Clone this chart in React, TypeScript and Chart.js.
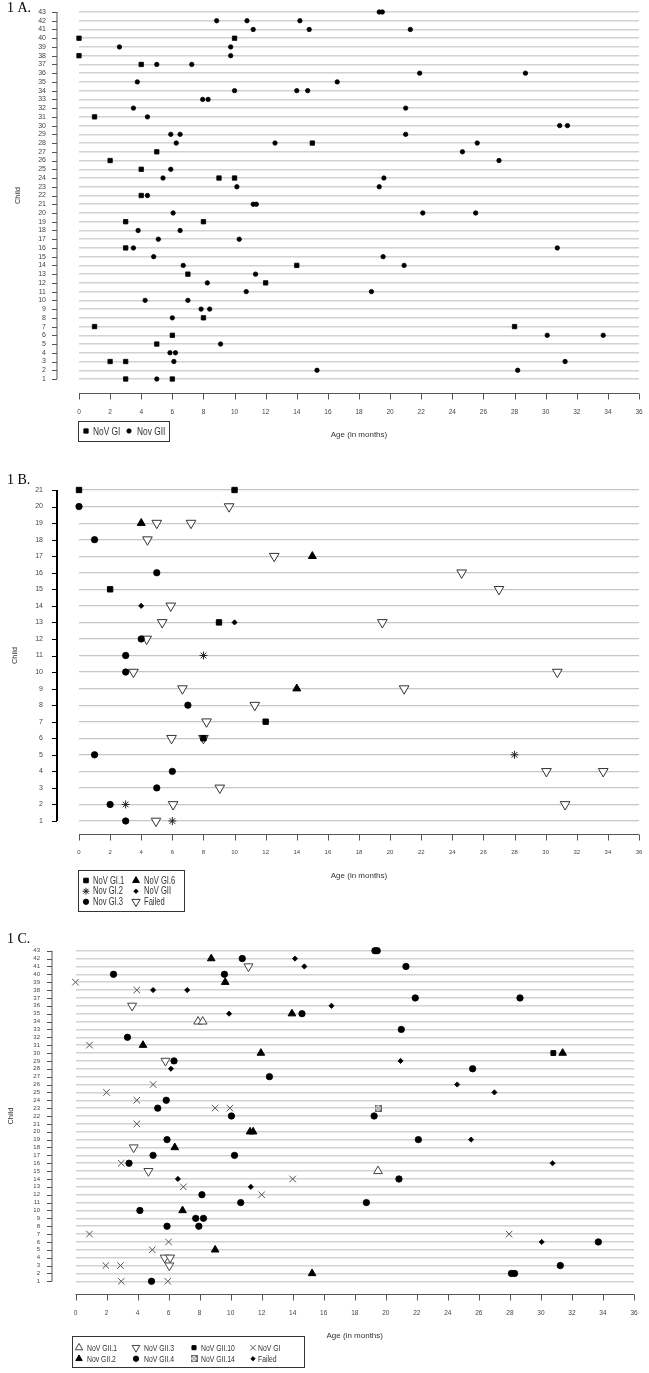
import React, { useEffect, useRef } from 'react';
import { Chart, registerables } from 'chart.js';
import { drawPoint } from 'chart.js/helpers';

Chart.register(...registerables);

type Pair = [number, number]; // [child, age in months]

const SANS = "'Liberation Sans', Arial, sans-serif";
const SERIF = "'Liberation Serif', 'Times New Roman', serif";

// ---------- tick labels ----------
const ageTicks = [0, 2, 4, 6, 8, 10, 12, 14, 16, 18, 20, 22, 24, 26, 28, 30, 32, 34, 36];
const childTicks43 = [1, 2, 3, 4, 5, 6, 7, 8, 9, 10, 11, 12, 13, 14, 15, 16, 17, 18, 19, 20, 21, 22, 23, 24, 25, 26, 27, 28, 29, 30, 31, 32, 33, 34, 35, 36, 37, 38, 39, 40, 41, 42, 43];
const childTicks21 = [1, 2, 3, 4, 5, 6, 7, 8, 9, 10, 11, 12, 13, 14, 15, 16, 17, 18, 19, 20, 21];

// ---------- Panel 1A: [child, age] ----------
const aNovGI: Pair[] = [
  [40, 0], [40, 10], [38, 0], [37, 4], [31, 1], [28, 15], [27, 5], [26, 2], [25, 4], [24, 9], [24, 10],
  [22, 4], [19, 3], [19, 8], [16, 3], [14, 14], [13, 7], [12, 12], [8, 8], [7, 1], [7, 28], [6, 6],
  [5, 5], [3, 2], [3, 3], [1, 3], [1, 6],
];
const aNovGII: Pair[] = [
  [43, 19.3], [43, 19.5], [42, 8.85], [42, 10.8], [42, 14.2], [41, 11.2], [41, 14.8], [41, 21.3],
  [39, 2.6], [39, 9.75], [38, 9.75], [37, 5.0], [37, 7.25], [36, 21.9], [36, 28.7], [35, 3.75], [35, 16.6],
  [34, 10.0], [34, 14.0], [34, 14.7], [33, 7.95], [33, 8.3], [32, 3.5], [32, 21.0], [31, 4.4],
  [30, 30.9], [30, 31.4], [29, 5.9], [29, 6.5], [29, 21.0], [28, 6.25], [28, 12.6], [28, 25.6],
  [27, 24.65], [26, 27.0], [25, 5.9], [24, 5.4], [24, 19.6], [23, 10.15], [23, 19.3], [22, 4.4],
  [21, 11.2], [21, 11.4], [20, 6.05], [20, 22.1], [20, 25.5], [18, 3.8], [18, 6.5], [17, 5.1], [17, 10.3],
  [16, 3.5], [16, 30.75], [15, 4.8], [15, 19.55], [14, 6.7], [14, 20.9], [13, 11.35], [12, 8.25],
  [11, 10.75], [11, 18.8], [10, 4.25], [10, 7.0], [9, 7.85], [9, 8.4], [8, 6.0], [6, 30.1], [6, 33.7],
  [5, 9.1], [4, 5.85], [4, 6.2], [3, 6.1], [3, 31.25], [2, 15.3], [2, 28.2], [1, 5.0],
];

// ---------- Panel 1B ----------
const bGI1: Pair[] = [[21, 0], [21, 10], [15, 2], [13, 9], [7, 12], [6, 8]];
const bGI6: Pair[] = [[19, 4], [17, 15], [9, 14]];
const bGI2: Pair[] = [[11, 8], [5, 28], [2, 3], [1, 6]];
const bGII: Pair[] = [[14, 4], [13, 10]];
const bGI3: Pair[] = [[20, 0], [18, 1], [16, 5], [12, 4], [11, 3], [10, 3], [8, 7], [5, 1], [4, 6], [3, 5], [2, 2], [1, 3]];
const bFailed: Pair[] = [
  [20, 9.65], [19, 5], [19, 7.2], [18, 4.4], [17, 12.55], [16, 24.6], [15, 27], [14, 5.9], [13, 5.35],
  [13, 19.5], [12, 4.35], [10, 3.5], [10, 30.75], [9, 6.65], [9, 20.9], [8, 11.3], [7, 8.2], [6, 5.95],
  [6, 8], [4, 30.05], [4, 33.7], [3, 9.05], [2, 6.05], [2, 31.25], [1, 4.95],
];

// ---------- Panel 1C ----------
const cGII1: Pair[] = [[34, 7.9], [34, 8.2], [15, 19.5]];
const cGII3: Pair[] = [[41, 11.15], [36, 3.65], [29, 5.8], [18, 3.75], [15, 4.7], [4, 5.75], [4, 6.1], [3, 6.05]];
const cGII10: Pair[] = [[30, 30.8]];
const cGI: Pair[] = [
  [39, 0], [38, 3.95], [31, 0.9], [26, 5], [25, 2], [24, 3.95], [23, 9], [23, 9.95], [21, 3.95],
  [16, 2.95], [14, 14], [13, 6.95], [12, 12], [7, 0.9], [7, 27.95], [6, 6], [5, 4.95], [3, 1.95],
  [3, 2.9], [1, 2.95], [1, 5.95],
];
const cGII2: Pair[] = [
  [42, 8.75], [39, 9.65], [35, 13.95], [31, 4.35], [30, 11.95], [30, 31.4], [20, 11.25], [20, 11.45],
  [18, 6.4], [10, 6.9], [5, 9], [2, 15.25],
];
const cGII4: Pair[] = [
  [43, 19.3], [43, 19.45], [42, 10.75], [41, 21.3], [40, 2.45], [40, 9.6], [37, 21.9], [37, 28.65],
  [35, 14.6], [33, 21.0], [32, 3.35], [29, 6.35], [28, 25.6], [27, 12.5], [24, 5.85], [23, 5.3],
  [22, 10.05], [22, 19.25], [19, 5.9], [19, 22.1], [17, 5.0], [17, 10.25], [16, 3.45], [14, 20.85],
  [12, 8.15], [11, 10.65], [11, 18.75], [10, 4.15], [9, 7.75], [9, 8.25], [8, 5.9], [8, 7.95],
  [6, 33.7], [3, 31.25], [2, 28.1], [2, 28.3], [1, 4.9],
];
const cGII14: Pair[] = [[23, 19.5]];
const cFailed: Pair[] = [
  [42, 14.15], [41, 14.75], [38, 5.0], [38, 7.2], [36, 16.5], [35, 9.9], [29, 20.95], [28, 6.15],
  [26, 24.6], [25, 27.0], [19, 25.5], [16, 30.75], [14, 6.6], [13, 11.3], [6, 30.05],
];

// ---------- types ----------
interface Marker { shape: string; radius: number; rotation?: number; fill: string; stroke: string; lw: number }
interface Series { label: string; data: Pair[]; marker: Marker }
interface Slot { x: number; y: number; tx: number }
interface PanelCfg {
  title: string; titleY: number; top: number; height: number; rows: number[]; series: Series[];
  padding: { top: number; left: number; right: number; bottom: number };
  yWidth: number; xHeight: number; yTickPad: number; xTickPad: number; xTitlePad: number; yTitlePad: number;
  xTickFont: number; yTickFont: number;
  gridColor: string; gridWidth: number;
  xAxisOffset: number; yAxisX: number; yAxisWidth: number; yAxisColor: string; xAxisColor: string;
  legendBox: [number, number, number, number]; slots: Slot[]; legendFont: number; legendScale: number;
}

const BLACK = '#000';
const TEXT_SQUEEZE = 0.76;

const panels: PanelCfg[] = [
  {
    title: '1 A.', titleY: 12, top: 0, height: 455, rows: childTicks43,
    series: [
      { label: 'NoV GI', data: aNovGI, marker: { shape: 'rect', radius: 3.1, fill: BLACK, stroke: BLACK, lw: 0.8 } },
      { label: 'Nov GII', data: aNovGII, marker: { shape: 'circle', radius: 2.2, fill: BLACK, stroke: BLACK, lw: 0.8 } },
    ],
    padding: { top: 12, left: 0, right: 10, bottom: 0 },
    yWidth: 79, xHeight: 76, yTickPad: 33, xTickPad: 29, xTitlePad: 15.2, yTitlePad: 13.5,
    xTickFont: 6.5, yTickFont: 7,
    gridColor: '#d2d2d2', gridWidth: 1.5,
    xAxisOffset: 14, yAxisX: 57, yAxisWidth: 1, yAxisColor: '#555', xAxisColor: '#555',
    legendBox: [78, 421, 169, 441],
    slots: [{ x: 86, y: 431, tx: 93 }, { x: 129, y: 431, tx: 137 }],
    legendFont: 11, legendScale: 1,
  },
  {
    title: '1 B.', titleY: 28.5, top: 455, height: 460, rows: childTicks21,
    series: [
      { label: 'NoV GI.1', data: bGI1, marker: { shape: 'rect', radius: 3.8, fill: BLACK, stroke: BLACK, lw: 1 } },
      { label: 'NoV GI.6', data: bGI6, marker: { shape: 'triangle', radius: 4.6, fill: BLACK, stroke: BLACK, lw: 1 } },
      { label: 'Nov GI.2', data: bGI2, marker: { shape: 'star', radius: 4, fill: 'rgba(0,0,0,0)', stroke: '#222', lw: 1 } },
      { label: 'NoV GII', data: bGII, marker: { shape: 'rectRot', radius: 2.6, fill: BLACK, stroke: BLACK, lw: 0.8 } },
      { label: 'Nov GI.3', data: bGI3, marker: { shape: 'circle', radius: 3.2, fill: BLACK, stroke: BLACK, lw: 0.8 } },
      { label: 'Failed', data: bFailed, marker: { shape: 'triangle', rotation: 180, radius: 5.6, fill: '#fff', stroke: '#333', lw: 1 } },
    ],
    padding: { top: 35, left: 0, right: 10, bottom: 0 },
    yWidth: 79, xHeight: 94, yTickPad: 36, xTickPad: 28, xTitlePad: 34.2, yTitlePad: 10,
    xTickFont: 6, yTickFont: 7,
    gridColor: '#c6c6c6', gridWidth: 1.2,
    xAxisOffset: 13, yAxisX: 57, yAxisWidth: 2, yAxisColor: '#000', xAxisColor: '#555',
    legendBox: [78, 415, 184, 456],
    slots: [
      { x: 86, y: 425.5, tx: 93 }, { x: 136, y: 425.5, tx: 144 },
      { x: 86, y: 436.2, tx: 93 }, { x: 136, y: 436.2, tx: 144 },
      { x: 86, y: 446.8, tx: 93 }, { x: 136, y: 446.8, tx: 144 },
    ],
    legendFont: 10, legendScale: 0.85,
  },
  {
    title: '1 C.', titleY: 28, top: 915, height: 458, rows: childTicks43,
    series: [
      { label: 'NoV GII.1', data: cGII1, marker: { shape: 'triangle', radius: 5, fill: '#fff', stroke: '#444', lw: 1 } },
      { label: 'NoV GII.3', data: cGII3, marker: { shape: 'triangle', rotation: 180, radius: 5.2, fill: '#fff', stroke: '#444', lw: 1 } },
      { label: 'NoV GII.10', data: cGII10, marker: { shape: 'rect', radius: 3.4, fill: BLACK, stroke: BLACK, lw: 1 } },
      { label: 'NoV GI', data: cGI, marker: { shape: 'crossRot', radius: 4.6, fill: 'rgba(0,0,0,0)', stroke: '#555', lw: 1 } },
      { label: 'Nov GII.2', data: cGII2, marker: { shape: 'triangle', radius: 4.4, fill: BLACK, stroke: BLACK, lw: 1 } },
      { label: 'NoV GII.4', data: cGII4, marker: { shape: 'circle', radius: 3.2, fill: BLACK, stroke: BLACK, lw: 0.8 } },
      { label: 'NoV GII.14', data: cGII14, marker: { shape: 'boxX', radius: 3, fill: '#fff', stroke: '#666', lw: 1 } },
      { label: 'Failed', data: cFailed, marker: { shape: 'rectRot', radius: 2.6, fill: BLACK, stroke: BLACK, lw: 0.8 } },
    ],
    padding: { top: 35.7, left: 0, right: 15, bottom: 0 },
    yWidth: 75.5, xHeight: 91.7, yTickPad: 35.5, xTickPad: 27.8, xTitlePad: 32.2, yTitlePad: 6,
    xTickFont: 6.5, yTickFont: 6,
    gridColor: '#d2d2d2', gridWidth: 1.5,
    xAxisOffset: 12.7, yAxisX: 52, yAxisWidth: 1, yAxisColor: '#555', xAxisColor: '#555',
    legendBox: [72, 421, 304, 452],
    slots: [
      { x: 79, y: 432.7, tx: 87 }, { x: 136, y: 432.7, tx: 144 }, { x: 194, y: 432.7, tx: 201 }, { x: 253, y: 432.7, tx: 258 },
      { x: 79, y: 443.7, tx: 87 }, { x: 136, y: 443.7, tx: 144 }, { x: 194, y: 443.7, tx: 201 }, { x: 253, y: 443.7, tx: 258 },
    ],
    legendFont: 9, legendScale: 0.85,
  },
];

function makeBoxX(): HTMLCanvasElement {
  const c = document.createElement('canvas');
  c.width = 7;
  c.height = 7;
  const g = c.getContext('2d')!;
  g.strokeStyle = '#666';
  g.lineWidth = 1;
  g.strokeRect(0.5, 0.5, 6, 6);
  g.beginPath();
  g.moveTo(1, 1); g.lineTo(6, 6);
  g.moveTo(6, 1); g.lineTo(1, 6);
  g.stroke();
  return c;
}

function resolveShape(shape: string): any {
  return shape === 'boxX' ? makeBoxX() : shape;
}

function makeDecor(cfg: PanelCfg, shapes: any[]) {
  return {
    id: 'decor',
    afterDraw(chart: any) {
      const { ctx, chartArea } = chart;
      const xs = chart.scales.x;
      const ys = chart.scales.y;
      ctx.save();
      // x axis line and ticks
      const ay = Math.round(chartArea.bottom + cfg.xAxisOffset) + 0.5;
      ctx.strokeStyle = cfg.xAxisColor;
      ctx.lineWidth = 1;
      ctx.beginPath();
      ctx.moveTo(xs.getPixelForValue(ageTicks[0]), ay);
      ctx.lineTo(xs.getPixelForValue(ageTicks[ageTicks.length - 1]), ay);
      for (const t of xs.ticks) {
        const px = Math.round(xs.getPixelForValue(t.value)) + 0.5;
        ctx.moveTo(px, ay);
        ctx.lineTo(px, ay + 6);
      }
      ctx.stroke();
      // y axis line and ticks
      ctx.strokeStyle = cfg.yAxisColor;
      ctx.lineWidth = cfg.yAxisWidth;
      ctx.beginPath();
      ctx.moveTo(cfg.yAxisX, ys.getPixelForValue(cfg.rows[0]));
      ctx.lineTo(cfg.yAxisX, ys.getPixelForValue(cfg.rows[cfg.rows.length - 1]));
      ctx.stroke();
      ctx.lineWidth = 1;
      ctx.beginPath();
      for (const t of ys.ticks) {
        const py = Math.round(ys.getPixelForValue(t.value)) + 0.5;
        ctx.moveTo(cfg.yAxisX - 5, py);
        ctx.lineTo(cfg.yAxisX, py);
      }
      ctx.stroke();
      // legend
      const [l, t, r, b] = cfg.legendBox;
      ctx.strokeStyle = '#333';
      ctx.lineWidth = 1;
      ctx.strokeRect(l + 0.5, t + 0.5, r - l, b - t);
      ctx.font = `${cfg.legendFont}px ${SANS}`;
      ctx.textBaseline = 'middle';
      ctx.textAlign = 'left';
      cfg.series.forEach((s, i) => {
        const slot = cfg.slots[i];
        const m = s.marker;
        ctx.fillStyle = m.fill;
        ctx.strokeStyle = m.stroke;
        ctx.lineWidth = m.lw;
        drawPoint(ctx, { pointStyle: shapes[i], rotation: m.rotation || 0, radius: m.radius * cfg.legendScale, borderWidth: m.lw }, slot.x, slot.y);
        ctx.save();
        ctx.translate(slot.tx, slot.y + 0.5);
        ctx.scale(TEXT_SQUEEZE, 1);
        ctx.fillStyle = '#333';
        ctx.fillText(s.label, 0, 0);
        ctx.restore();
      });
      // panel title
      ctx.font = `14px ${SERIF}`;
      ctx.fillStyle = '#000';
      ctx.textBaseline = 'alphabetic';
      ctx.fillText(cfg.title, 7, cfg.titleY);
      ctx.restore();
    },
  };
}

function buildConfig(cfg: PanelCfg): any {
  const shapes = cfg.series.map((s) => resolveShape(s.marker.shape));
  return {
    type: 'scatter',
    data: {
      datasets: cfg.series.map((s, i) => ({
        label: s.label,
        data: s.data.map(([child, age]) => ({ x: age, y: child })),
        pointStyle: shapes[i],
        pointRadius: s.marker.radius,
        pointRotation: s.marker.rotation || 0,
        pointBackgroundColor: s.marker.fill,
        pointBorderColor: s.marker.stroke,
        pointBorderWidth: s.marker.lw,
        showLine: false,
        clip: false,
      })),
    },
    options: {
      responsive: false,
      animation: false,
      events: [],
      layout: { padding: cfg.padding },
      plugins: { legend: { display: false }, tooltip: { enabled: false }, title: { display: false } },
      scales: {
        x: {
          type: 'linear',
          min: ageTicks[0],
          max: ageTicks[ageTicks.length - 1],
          afterBuildTicks: (sc: any) => { sc.ticks = ageTicks.map((v) => ({ value: v })); },
          afterFit: (sc: any) => { sc.height = cfg.xHeight; sc.paddingLeft = 0; sc.paddingRight = 0; },
          grid: { display: false, drawTicks: false },
          border: { display: false },
          ticks: { autoSkip: false, maxRotation: 0, padding: cfg.xTickPad, color: '#444', font: { family: SANS, size: cfg.xTickFont } },
          title: { display: true, text: 'Age (in months)', color: '#333', font: { family: SANS, size: 8 }, padding: { top: 0, bottom: cfg.xTitlePad } },
        },
        y: {
          type: 'linear',
          min: cfg.rows[0],
          max: cfg.rows[cfg.rows.length - 1],
          afterBuildTicks: (sc: any) => { sc.ticks = cfg.rows.map((v) => ({ value: v })); },
          afterFit: (sc: any) => { sc.width = cfg.yWidth; sc.paddingTop = 0; sc.paddingBottom = 0; },
          grid: { color: cfg.gridColor, lineWidth: cfg.gridWidth, drawTicks: false },
          border: { display: false },
          ticks: { autoSkip: false, padding: cfg.yTickPad, color: '#444', font: { family: SANS, size: cfg.yTickFont } },
          title: { display: true, text: 'Child', color: '#333', font: { family: SANS, size: 7.5 }, padding: { top: cfg.yTitlePad, bottom: 0 } },
        },
      },
    },
    plugins: [makeDecor(cfg, shapes)],
  };
}

function Panel({ cfg }: { cfg: PanelCfg }) {
  const ref = useRef<HTMLCanvasElement>(null);
  useEffect(() => {
    const chart = new Chart(ref.current as HTMLCanvasElement, buildConfig(cfg));
    return () => chart.destroy();
  }, [cfg]);
  return (
    <canvas
      ref={ref}
      width={649}
      height={cfg.height}
      style={{ position: 'absolute', left: 0, top: cfg.top, width: 649, height: cfg.height }}
    />
  );
}

export default function App() {
  return (
    <div style={{ position: 'absolute', left: 0, top: 0, width: 649, height: 1373, background: '#fff' }}>
      {panels.map((p) => (
        <Panel key={p.title} cfg={p} />
      ))}
    </div>
  );
}
